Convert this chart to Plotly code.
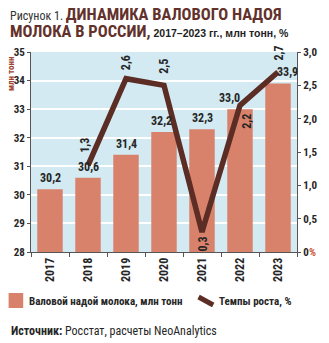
import plotly.graph_objects as go

# Data
years = ["2017", "2018", "2019", "2020", "2021", "2022", "2023"]
milk_mt = [30.2, 30.6, 31.4, 32.2, 32.3, 33.0, 33.9]
growth_years = ["2018", "2019", "2020", "2021", "2022", "2023"]
growth_pct = [1.3, 2.6, 2.5, 0.3, 2.2, 2.7]
left_ticks = [28, 29, 30, 31, 32, 33, 34, 35]
right_ticks = [0, 0.5, 1.0, 1.5, 2.0, 2.5, 3.0]
right_ticktext = ["0", "0,5", "1,0", "1,5", "2,0", "2,5", "3,0"]

W, H = 329, 343
L, R, T, B = 31, 25, 52, 91
PW, PH = W - L - R, H - T - B

BAR = "#d9826b"
LINE = "#5b2d24"
BG = "#d3eaf3"
DARK = "#262626"
TITLE_RED = "#62312b"
NARROW = "Liberation Sans Narrow, Arial Narrow, Roboto Condensed, sans-serif"
WIDE = "Liberation Sans, Arial, sans-serif"

# Label offsets (px) keeping labels clear of the growth line
bar_label_xshift = {"2020": -3, "2022": -11, "2023": 9}
line_label_offset = {  # year: (xshift, yshift, anchor)
    "2018": (-3, 10, "bottom"),
    "2019": (0, 6, "bottom"),
    "2020": (0, 9, "bottom"),
    "2021": (0, -3, "top"),
    "2022": (7, -7, "top"),
    "2023": (0, 9, "bottom"),
}


def px(x):
    return (x - L) / PW


def py(y):
    return (H - B - y) / PH


def fmt(v):
    return f"{v:.1f}".replace(".", ",")


fig = go.Figure()

fig.add_trace(go.Bar(
    x=years, y=[v - 28 for v in milk_mt], base=28,
    marker=dict(color=BAR, line=dict(width=0)),
    width=0.67,
    showlegend=False,
    hoverinfo="skip",
))

fig.add_trace(go.Scatter(
    x=growth_years, y=growth_pct, yaxis="y2",
    mode="lines",
    line=dict(color=LINE, width=5.5),
    showlegend=False,
))

# Bar value labels
for i, (yr, v) in enumerate(zip(years, milk_mt)):
    fig.add_annotation(
        x=i, y=v, xref="x", yref="y",
        text=fmt(v), showarrow=False,
        font=dict(family=NARROW, size=12, color=DARK, weight="bold"),
        yanchor="bottom", yshift=2,
        xshift=bar_label_xshift.get(yr, 0),
    )

# Rotated value labels on the growth line
for yr, v in zip(growth_years, growth_pct):
    dx, dy, anchor = line_label_offset[yr]
    fig.add_annotation(
        x=years.index(yr), y=v, xref="x", yref="y2",
        text=fmt(v),
        textangle=-90, showarrow=False,
        font=dict(family=NARROW, size=12, color=DARK, weight="bold"),
        yanchor=anchor, yshift=dy, xshift=dx,
    )

tickfont = dict(family=NARROW, size=11, color=DARK, weight="bold")

fig.update_layout(
    width=W, height=H,
    margin=dict(l=L, r=R, t=T, b=B),
    paper_bgcolor="white",
    plot_bgcolor=BG,
    separators=", ",
    xaxis=dict(
        type="category",
        range=[-0.5, len(years) - 0.5],
        tickangle=-90,
        tickfont=dict(family=NARROW, size=12, color=DARK, weight="bold"),
        showline=True, linecolor="#555", linewidth=1,
        ticks="outside", ticklen=4, tickcolor="#555",
        tickson="boundaries",
        showgrid=False,
    ),
    yaxis=dict(
        range=[28, 35],
        tickvals=left_ticks,
        tickfont=tickfont,
        showline=True, linecolor="#555", linewidth=1,
        ticks="outside", ticklen=3, tickcolor="#555",
        gridcolor="white", gridwidth=1.5,
        zeroline=False,
    ),
    yaxis2=dict(
        range=[0, 3],
        overlaying="y", side="right",
        tickvals=right_ticks, ticktext=right_ticktext,
        tickfont=tickfont,
        showline=True, linecolor="#555", linewidth=1,
        ticks="outside", ticklen=3, tickcolor="#555",
        showgrid=False, zeroline=False,
    ),
)

# Title, two tightly spaced lines
fig.add_annotation(
    xref="paper", yref="paper", x=px(7), y=py(15), xanchor="left", yanchor="middle",
    align="left", showarrow=False,
    text=("<span style='font-size:12px;color:#333'>Рисунок 1. </span>"
          f"<b style='color:{TITLE_RED}'>ДИНАМИКА ВАЛОВОГО НАДОЯ</b>"),
    font=dict(family=NARROW, size=16.5),
)
fig.add_annotation(
    xref="paper", yref="paper", x=px(7), y=py(31.5), xanchor="left", yanchor="middle",
    align="left", showarrow=False,
    text=(f"<b style='color:{TITLE_RED}'>МОЛОКА В РОССИИ,</b>"
          f"<b style='font-size:10.5px;color:#222;font-family:{WIDE}'> 2017–2023 гг., млн тонн, %</b>"),
    font=dict(family=NARROW, size=16.5),
)

# Axis unit captions
fig.add_annotation(
    xref="paper", yref="paper", x=px(10), y=py(54), xanchor="center", yanchor="top",
    text="<b>млн тонн</b>", textangle=-90, showarrow=False,
    font=dict(family=NARROW, size=9, color="#a0452f"),
)
fig.add_annotation(
    xref="paper", yref="paper", x=px(314), y=py(252), xanchor="left", yanchor="middle",
    text="<b>%</b>", showarrow=False,
    font=dict(family=NARROW, size=11, color="#d05a3a"),
)

# Legend
fig.add_shape(type="rect", xref="paper", yref="paper",
              x0=px(8), x1=px(23), y0=py(293), y1=py(308),
              fillcolor=BAR, line=dict(width=0))
fig.add_annotation(
    xref="paper", yref="paper", x=px(27), y=py(301), xanchor="left", yanchor="middle",
    text="<b>Валовой надой молока, млн тонн</b>", showarrow=False,
    font=dict(family=NARROW, size=11, color=DARK),
)
fig.add_shape(type="line", xref="paper", yref="paper",
              x0=px(203), y0=py(297), x1=px(218), y1=py(305),
              line=dict(color=LINE, width=5))
fig.add_annotation(
    xref="paper", yref="paper", x=px(222), y=py(301), xanchor="left", yanchor="middle",
    text="<b>Темпы роста, %</b>", showarrow=False,
    font=dict(family=NARROW, size=11, color=DARK),
)

# Source
fig.add_annotation(
    xref="paper", yref="paper", x=px(8), y=py(331), xanchor="left", yanchor="middle",
    text="<b>Источник:</b> Росстат, расчеты NeoAnalytics", showarrow=False,
    font=dict(family=NARROW, size=12, color=DARK),
)

fig.write_html("out.html")
